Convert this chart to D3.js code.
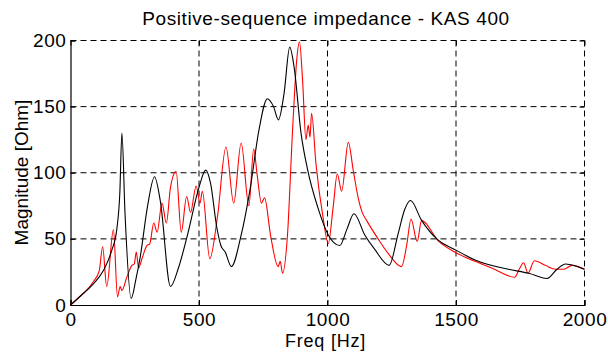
<!DOCTYPE html>
<html><head><meta charset="utf-8">
<script src="https://cdn.jsdelivr.net/npm/d3@7"></script>
<style>body{margin:0;background:#fff}svg{display:block}text{font-family:"Liberation Sans",Arial,sans-serif;fill:#000}</style>
</head><body><svg id="c" width="608" height="353"></svg>
<script>
const title = "Positive-sequence impedance - KAS 400";
const xLabel = "Freq [Hz]";
const yLabel = "Magnitude [Ohm]";
const xTicks = [0, 500, 1000, 1500, 2000];
const yTicks = [0, 50, 100, 150, 200];

const blackFreq = [0, 40, 89, 128, 160, 180, 192, 200, 212, 236, 255, 271, 300, 327, 350, 389, 420, 454, 500, 526, 545, 569, 585, 602, 626, 663, 700, 733, 766, 790, 809, 831, 853, 870, 897, 923, 962, 1003, 1048, 1075, 1103, 1145, 1184, 1240, 1275, 1300, 1323, 1366, 1431, 1500, 1574, 1704, 1783, 1854, 1893, 1926, 1965, 2000];
const blackVal  = [0, 7, 16, 26, 41, 57, 85, 130, 70, 5, 20, 36, 75, 97, 78, 14, 28, 52, 89, 102, 92, 59, 45, 40, 29, 52, 89, 132, 156, 150, 140, 160, 195, 180, 130, 102, 74, 53, 45, 57, 69, 53, 42, 30, 54, 72, 79, 64, 49, 41.5, 34, 27, 24, 20, 27, 31, 29.5, 27];

const redFreq = [0, 40, 89, 112, 125, 141, 167, 183, 193, 200, 219, 239, 248, 256, 265, 278, 298, 308, 324, 337, 356, 373, 389, 411, 431, 452, 467, 489, 504, 513, 542, 572, 605, 635, 664, 694, 713, 726, 743, 755, 779, 808, 816, 825, 844, 864, 881, 891, 903, 916, 925, 932, 938, 955, 982, 1003, 1022, 1038, 1055, 1081, 1100, 1120, 1135, 1152, 1197, 1236, 1288, 1308, 1325, 1349, 1366, 1431, 1500, 1574, 1639, 1728, 1746, 1763, 1780, 1805, 1848, 1887, 1919, 1952, 2000];
const redVal  = [0, 7, 17.6, 26, 44, 14, 57, 6, 14, 11, 21, 30, 31, 40, 28, 35, 45, 46, 62, 55, 77, 62, 89, 101, 55, 82, 70, 90, 77, 86, 35, 67, 119.5, 77, 122.5, 75, 118, 99, 77, 81, 52, 29, 33, 24, 52, 132, 187, 199, 170, 125, 136, 127, 145, 107, 67, 46.5, 74, 99, 86, 123, 102, 80.5, 70, 64, 50, 39, 29, 45, 65, 48, 64, 48.5, 39.5, 33, 28, 21, 27, 32, 24, 33.5, 30, 27, 27, 30, 27];

const svg = d3.select("#c");
const m = {l: 70.5, r: 584.5, t: 40.5, b: 305};
const x = d3.scaleLinear().domain([0, 2000]).range([m.l, m.r]);
const y = d3.scaleLinear().domain([0, 200]).range([m.b, m.t]);
const FONT = "Liberation Sans, Arial, sans-serif";

// grid
const g = svg.append("g");
g.selectAll("line.gx").data(xTicks.filter(d => d > 0)).join("line")
  .attr("x1", d => x(d)).attr("x2", d => x(d)).attr("y1", m.t).attr("y2", m.b)
  .attr("stroke", "#000").attr("stroke-width", 1).attr("stroke-dasharray", "6,4");
g.selectAll("line.gy").data(yTicks.filter(d => d > 0)).join("line")
  .attr("y1", d => y(d)).attr("y2", d => y(d)).attr("x1", m.l).attr("x2", m.r)
  .attr("stroke", "#000").attr("stroke-width", 1).attr("stroke-dasharray", "6,4");

// axes
const xa = svg.append("g").attr("transform", `translate(0,${m.b})`)
  .call(d3.axisBottom(x).tickValues(xTicks).tickSize(-5).tickPadding(7.5).tickFormat(d3.format("d")));
const ya = svg.append("g").attr("transform", `translate(${m.l},0)`)
  .call(d3.axisLeft(y).tickValues(yTicks).tickSize(-5).tickPadding(4).tickFormat(d3.format("d")));
svg.append("g").attr("transform", `translate(0,${m.t})`)
  .call(d3.axisTop(x).tickValues(xTicks).tickSize(-5).tickFormat(""))
  .select(".domain").remove();
svg.append("g").attr("transform", `translate(${m.r},0)`)
  .call(d3.axisRight(y).tickValues(yTicks).tickSize(-5).tickFormat(""))
  .select(".domain").remove();
svg.selectAll(".tick line").attr("stroke", "#000");
svg.selectAll(".domain").attr("stroke", "#000").attr("stroke-width", 1.2);
[xa, ya].forEach(a => a.selectAll("text").attr("font-size", 19).attr("font-family", FONT)
  .attr("letter-spacing", "0.6px").attr("fill", "#000"));

// lines
const line = d3.line().x(d => x(d[0])).y(d => y(d[1])).curve(d3.curveMonotoneX);
const red = redFreq.map((f, i) => [f, redVal[i]]);
const black = blackFreq.map((f, i) => [f, blackVal[i]]);
svg.append("path").datum(red).attr("d", line).attr("fill", "none").attr("stroke", "#ff0000").attr("stroke-width", 1.1);
svg.append("path").datum(black).attr("d", line).attr("fill", "none").attr("stroke", "#000").attr("stroke-width", 1.1);

// labels
svg.append("text").attr("x", 326).attr("y", 25).attr("text-anchor", "middle").attr("font-size", 19)
  .attr("letter-spacing", "0.6px").text(title);
svg.append("text").attr("x", 325.5).attr("y", 347).attr("text-anchor", "middle").attr("font-size", 18)
  .attr("letter-spacing", "0.8px").text(xLabel);
svg.append("text").attr("transform", "translate(28,172.5) rotate(-90)").attr("text-anchor", "middle").attr("font-size", 19).text(yLabel);
</script></body></html>
